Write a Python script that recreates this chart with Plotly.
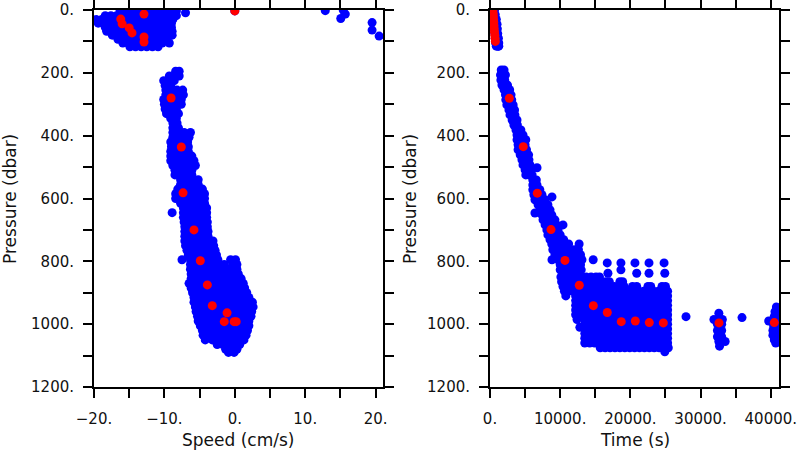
import plotly.graph_objects as go

# ---------------- data ----------------
# Left panel: rows of (pressure dbar, [speeds cm/s]) for the blue cloud
left_blue_rows = [
    (0, [15.4]), (2, [12.85]), (13, [15.7]), (27, [15.05]), (40, [19.5]), (64, [19.5]), (83, [20.5]),
    (3, [-16.3, -15.5, -14.7, -13.9, -13.1, -12.3, -11.5, -10.7, -9.9, -9.1, -8.3, 0.0]),
    (9, [-7.0]),
    (18, [-18.4, -17.6, -16.8, -16.0, -15.2, -14.4, -13.6, -12.8, -12.0, -11.2, -10.4, -9.6, -8.8, -8.3]),
    (30, [-19.7, -18.9, -18.1, -17.3, -16.5, -15.7, -14.9, -14.1, -13.3, -12.5, -11.7, -10.9, -10.1, -9.3, -8.8]),
    (42, [-19.4, -18.6, -17.8, -17.0, -16.2, -15.4, -14.6, -13.8, -13.0, -12.2, -11.4, -10.6, -9.8, -9.0]),
    (55, [-18.4, -17.6, -16.8, -16.0, -15.2, -14.4, -13.6, -12.8, -12.0, -11.2, -10.4, -9.6, -9.0]),
    (68, [-18.2, -17.4, -16.6, -15.8, -15.0, -14.2, -13.4, -12.6, -11.8, -11.0, -10.2, -9.4, -8.9]),
    (80, [-17.4, -16.6, -15.8, -15.0, -14.2, -13.4, -12.6, -11.8, -11.0, -10.2, -9.4, -8.9]),
    (93, [-16.6, -15.8, -15.0, -14.2, -13.4, -12.6, -11.8, -11.0, -10.2, -9.9]),
    (105, [-15.9, -15.1, -14.3, -13.5, -12.7, -11.9, -11.1, -10.3, -9.3]),
    (117, [-14.9, -14.1, -13.3, -12.5, -11.7, -10.9]),
    (195, [-8.4, -7.9]),
    (210, [-9.3, -8.6, -7.9]),
    (225, [-10.1, -9.4, -8.6]),
    (240, [-9.9, -9.1]),
    (255, [-9.8, -9.0, -8.2, -7.4]),
    (270, [-9.8, -9.0, -8.2, -7.3]),
    (285, [-10.1, -9.3, -8.5, -7.6]),
    (300, [-10.0, -9.2, -8.4, -7.6]),
    (315, [-9.9, -9.1, -8.3]),
    (330, [-9.7, -8.9, -8.0]),
    (345, [-9.1, -8.3]),
    (360, [-8.8, -8.2]),
    (375, [-8.8, -8.0]),
    (390, [-8.8, -8.0, -7.2, -6.3]),
    (405, [-8.8, -8.0, -7.2, -6.5]),
    (420, [-9.1, -8.3, -7.5, -6.7]),
    (435, [-9.0, -8.2, -7.4, -6.6]),
    (450, [-9.1, -8.3, -7.5, -6.6]),
    (465, [-9.1, -8.3, -7.5, -6.7, -6.1]),
    (480, [-9.1, -8.3, -7.5, -6.7, -5.8]),
    (495, [-8.8, -8.0, -7.2, -6.4, -5.6]),
    (510, [-8.5, -7.7, -6.9, -6.1]),
    (525, [-8.5, -7.7, -6.9, -6.1]),
    (540, [-7.7, -6.9, -6.1, -5.2]),
    (555, [-7.7, -6.9, -6.1, -5.2]),
    (570, [-8.1, -7.3, -6.5, -5.6, -4.6]),
    (585, [-8.4, -7.6, -6.8, -5.9, -5.0, -4.3]),
    (600, [-8.4, -7.6, -6.8, -5.9, -5.0, -4.3]),
    (615, [-7.7, -6.9, -6.0, -5.2, -4.3]),
    (630, [-7.3, -6.5, -5.6, -4.8, -4.0]),
    (645, [-8.9, -7.3, -6.5, -5.6, -4.8, -4.0]),
    (660, [-7.3, -6.5, -5.6, -4.8, -4.0]),
    (675, [-7.2, -6.4, -5.5, -4.7, -3.9]),
    (690, [-7.1, -6.3, -5.4, -4.6, -3.9]),
    (705, [-7.1, -6.3, -5.4, -4.6, -3.8]),
    (720, [-7.1, -6.2, -5.4, -4.6, -3.8]),
    (735, [-7.1, -6.2, -5.4, -4.5, -3.6, -3.1]),
    (750, [-7.0, -6.2, -5.3, -4.5, -3.6, -3.0]),
    (765, [-6.8, -6.0, -5.1, -4.3, -3.5, -2.8]),
    (780, [-6.6, -5.8, -5.0, -4.1, -3.3, -2.6]),
    (795, [-7.5, -6.3, -5.5, -4.7, -3.8, -3.0, -2.4, -0.6, 0.1]),
    (810, [-6.3, -5.5, -4.7, -3.9, -3.1, -2.3, -1.5, -0.3, 0.3]),
    (825, [-6.3, -5.5, -4.7, -3.9, -3.1, -2.3, -1.5, -0.7, 0.3]),
    (840, [-6.2, -5.4, -4.6, -3.8, -3.0, -2.2, -1.4, -0.6, 0.2, 0.5]),
    (855, [-6.2, -5.4, -4.6, -3.8, -3.0, -2.2, -1.4, -0.6, 0.2, 0.9]),
    (870, [-6.5, -5.6, -4.8, -4.0, -3.2, -2.4, -1.6, -0.8, 0.0, 0.8, 1.2]),
    (885, [-6.2, -5.4, -4.6, -3.8, -3.0, -2.2, -1.4, -0.6, 0.2, 1.0, 1.4]),
    (900, [-6.0, -5.2, -4.4, -3.6, -2.8, -2.0, -1.2, -0.4, 0.4, 1.2, 1.7]),
    (915, [-5.8, -5.0, -4.2, -3.4, -2.6, -1.8, -1.0, -0.2, 0.6, 1.4, 2.0]),
    (930, [-5.8, -5.0, -4.2, -3.4, -2.6, -1.8, -1.0, -0.2, 0.6, 1.4, 2.2, 2.5]),
    (945, [-5.6, -4.8, -4.0, -3.2, -2.4, -1.6, -0.8, 0.0, 0.8, 1.6, 2.4, 2.6]),
    (960, [-5.5, -4.7, -3.9, -3.1, -2.3, -1.5, -0.7, 0.1, 0.9, 1.7, 2.4]),
    (975, [-5.3, -4.5, -3.7, -2.9, -2.1, -1.3, -0.5, 0.3, 1.1, 1.9, 2.3]),
    (990, [-5.2, -4.4, -3.6, -2.8, -2.0, -1.2, -0.4, 0.4, 1.2, 2.0]),
    (1005, [-4.9, -4.1, -3.3, -2.5, -1.7, -0.9, -0.1, 0.7, 1.5, 2.0]),
    (1020, [-4.6, -3.8, -3.0, -2.2, -1.4, -0.6, 0.2, 1.0, 1.8]),
    (1035, [-4.5, -3.7, -2.9, -2.1, -1.3, -0.5, 0.3, 1.1, 1.6]),
    (1050, [-4.2, -3.2, -2.4, -1.6, -0.8, 0.0, 0.8, 1.3]),
    (1065, [-2.5, -1.7, -0.9, -0.1, 0.7]),
    (1080, [-1.3, -0.5, 0.3]),
    (1090, [-0.9, -0.1]),
]

# Left panel red (averaged) points
left_red_speed = [-12.9, -16.2, -16.0, -15.0, -14.6, -12.9, -12.9, 0.0, -9.05, -7.6, -7.35,
                  -5.8, -4.9, -3.9, -3.2, -1.1, -1.5, -0.1, 0.2]
left_red_pres = [13, 29, 44, 57, 73, 86, 102, 3, 280, 436, 582,
                 700, 798, 875, 941, 964, 992, 992, 992]

# Right panel: typed time list for the deep, densely sampled block
deep_times = [13500, 14200, 14900, 15600, 16300, 17000, 17700, 18400, 19100,
              19800, 20500, 21200, 21900, 22600, 23300, 24000, 24700, 25300]

right_blue_rows = [
    (0, [450, 650]), (15, [500, 750]), (30, [550, 800, 900]), (45, [600, 850, 1000]),
    (60, [650, 900, 1050]), (75, [700, 950, 1100]), (90, [750, 1000, 1200]),
    (105, [800, 1050, 1250]), (115, [900, 1150, 1250]),
    (191, [1600, 2000]), (207, [1500, 1950, 2200]), (223, [1550, 2100]),
    (239, [1700, 2200, 2500]), (254, [2000, 2500, 2800]), (270, [2200, 2700, 3000]),
    (286, [2250, 2700, 3100]), (302, [2400, 2900, 3300]), (318, [2700, 3150, 3500]),
    (334, [2850, 3300, 3550]), (350, [3150, 3550, 3850]), (366, [3400, 3900]),
    (382, [3700, 4100, 4400]), (398, [3850, 4300, 4700]), (413, [3850, 4300, 4800, 5100]),
    (429, [4000, 4500, 5000]), (445, [4000, 4600, 5200]), (461, [4300, 4900, 5500]),
    (477, [4550, 5100, 5550]), (493, [4700, 5250, 5700]), (502, [6700]),
    (509, [5000, 5400, 5850]), (525, [5100, 5550, 6000]), (541, [6100, 6600]),
    (557, [6100, 6700]), (572, [6100, 6550, 7100]), (588, [6250, 6850, 7400]),
    (595, [8830]), (604, [6400, 6950, 7550, 7850]), (620, [6850, 7400, 8000, 8250]),
    (636, [7100, 7700, 8250, 8550]), (646, [6400]), (652, [7400, 8000, 8550, 8800]),
    (668, [7550, 8100, 8700, 9250]), (684, [7850, 8400, 9000, 9500, 10400]),
    (700, [8100, 8700, 9300, 9700]), (716, [8250, 8850, 9450, 10000]),
    (731, [8550, 9100, 9700, 10300, 10500]),
    (745, [8800, 9400, 10000, 10600, 11200, 12700]),
    (763, [8950, 9550, 10200, 10800, 11400, 12000, 12600]),
    (779, [9250, 9850, 10450, 11050, 11650, 12250, 12900]),
    (795, [8830, 9700, 10300, 10900, 11500, 12100, 12700, 13100, 14700]),
    (805, [16700, 18650, 20650, 22650, 24800]),
    (811, [10000, 10600, 11200, 11800, 12400, 12900]),
    (827, [10000, 10600, 11200, 11800, 12400, 13000, 18650]),
    (838, [16800, 20900, 22650, 24900]),
    (850, [10100, 10700, 11300, 11900, 12500, 13100, 13700, 14400, 15100, 15600]),
    (865, [10200, 10800, 11400, 12000, 12600, 13200, 13800, 14500, 15200, 15800,
           16500, 17000, 18500, 18900]),
    (880, [10400, 11000, 11600, 12200, 12800, 13500, 14200, 14900, 15600, 16300,
           17000, 17700, 18400, 19100, 20300, 20900, 22500, 22900, 24500, 25000]),
    (895, [10600, 11200, 11800, 12400, 13000] + deep_times),
    (910, [10800, 12200, 12900] + deep_times),
    (925, [12200, 12900] + deep_times),
    (940, [12200, 12900] + deep_times),
    (955, [12200, 12900] + deep_times),
    (970, [12200, 12900] + deep_times),
    (985, [12400] + deep_times),
    (1000, deep_times),
    (1010, [12800]),
    (1015, deep_times),
    (1030, deep_times),
    (1045, deep_times),
    (1053, [13700]),
    (1060, deep_times),
    (1075, [15700, 16400, 17100, 17800, 18500, 19200, 19900, 20600, 21300, 22000,
            22700, 23400, 24100, 24800, 25400]),
    (1088, [24900]),
    (976, [27920]), (979, [35900]),
    (965, [32600]), (985, [31900, 32500, 33100]), (1000, [32400, 33000]),
    (1020, [32400, 33000]), (1040, [32400, 33000]), (1055, [32600, 33500]), (1070, [32700]),
    (945, [40800]), (960, [40600, 41000]), (975, [40500, 41000]),
    (990, [39700, 40500, 41000]), (1005, [40400, 40900]), (1020, [40300, 40900]),
    (1035, [40300, 40900]), (1050, [40500, 41000]), (1060, [40700]),
]

right_red_time = [420, 450, 480, 510, 540, 570, 600, 640, 680, 720, 760,
                  2750, 4740, 6740, 8690, 10680, 12720, 14720, 16710, 18700,
                  20700, 22690, 24690, 32620, 40500]
right_red_pres = [0, 10, 20, 30, 40, 50, 60, 70, 80, 90, 100,
                  281, 435, 583, 699, 797, 876, 941, 963, 992,
                  990, 995, 996, 996, 995]

pres_ticks = [0, 200, 400, 600, 800, 1000, 1200]
pres_ticktext = ["0.", "200.", "400.", "600.", "800.", "1000.", "1200."]
speed_ticks = [-20, -10, 0, 10, 20]
speed_ticktext = ["\u221220.", "\u221210.", "0.", "10.", "20."]
time_ticks = [0, 10000, 20000, 30000, 40000]
time_ticktext = ["0.", "10000.", "20000.", "30000.", "40000."]


def flatten(rows):
    xs, ys = [], []
    for p, vals in rows:
        for v in vals:
            xs.append(v)
            ys.append(p)
    return xs, ys


lbx, lby = flatten(left_blue_rows)
rbx, rby = flatten(right_blue_rows)

BLUE = "#0000FF"
RED = "#FF0000"
MS = 9

fig = go.Figure()
fig.add_trace(go.Scatter(x=lbx, y=lby, mode="markers", xaxis="x", yaxis="y",
                         marker=dict(color=BLUE, size=MS, line=dict(width=0)), showlegend=False))
fig.add_trace(go.Scatter(x=left_red_speed, y=left_red_pres, mode="markers", xaxis="x", yaxis="y",
                         marker=dict(color=RED, size=MS, line=dict(width=0)), showlegend=False))
fig.add_trace(go.Scatter(x=rbx, y=rby, mode="markers", xaxis="x2", yaxis="y2",
                         marker=dict(color=BLUE, size=MS, line=dict(width=0)), showlegend=False))
fig.add_trace(go.Scatter(x=right_red_time, y=right_red_pres, mode="markers", xaxis="x2", yaxis="y2",
                         marker=dict(color=RED, size=MS, line=dict(width=0)), showlegend=False))

FONT = "DejaVu Sans"
tickfont = dict(family=FONT, size=15, color="#111111")


def axis_common(minor_vals):
    return dict(showline=True, linewidth=2, linecolor="black", mirror="ticks",
                ticks="outside", ticklen=9, tickwidth=1.5, tickcolor="black",
                showgrid=False, zeroline=False, tickfont=tickfont, automargin=False,
                minor=dict(tickmode="array", tickvals=minor_vals, ticks="outside",
                           ticklen=9, tickwidth=1.5, tickcolor="black", showgrid=False))


W, H = 800, 450
ytop, ybot = 10, 387
ydom = [1 - ybot / H, 1 - ytop / H]

fig.update_layout(
    width=W, height=H, margin=dict(l=0, r=0, t=0, b=0, autoexpand=False),
    paper_bgcolor="white", plot_bgcolor="white", showlegend=False,
    xaxis=dict(domain=[94 / W, 383 / W], range=[-20, 21.05], tickmode="array",
               tickvals=speed_ticks, ticktext=speed_ticktext, anchor="y",
               ticklabelstandoff=8, **axis_common([-15, -5, 5, 15])),
    yaxis=dict(domain=ydom, range=[1200, 0], tickmode="array", tickvals=pres_ticks,
               ticktext=pres_ticktext, anchor="x", ticklabelstandoff=6,
               **axis_common([100, 300, 500, 700, 900, 1100])),
    xaxis2=dict(domain=[490 / W, 779 / W], range=[0, 41170], tickmode="array",
                tickvals=time_ticks, ticktext=time_ticktext, anchor="y2",
                ticklabelstandoff=8,
                **axis_common([5000, 15000, 25000, 35000])),
    yaxis2=dict(domain=ydom, range=[1200, 0], tickmode="array", tickvals=pres_ticks,
                ticktext=pres_ticktext, anchor="x2", ticklabelstandoff=6,
                **axis_common([100, 300, 500, 700, 900, 1100])),
)

titlefont = dict(family=FONT, size=17, color="#111111")
fig.add_annotation(text="Speed (cm/s)", x=238.5 / W, y=1 - 440 / H, xref="paper", yref="paper",
                   showarrow=False, font=titlefont, xanchor="center", yanchor="middle")
fig.add_annotation(text="Time (s)", x=634.5 / W, y=1 - 440 / H, xref="paper", yref="paper",
                   showarrow=False, font=titlefont, xanchor="center", yanchor="middle")
fig.add_annotation(text="Pressure (dbar)", x=10 / W, y=1 - 199 / H, xref="paper", yref="paper",
                   showarrow=False, font=titlefont, textangle=-90, xanchor="center", yanchor="middle")
fig.add_annotation(text="Pressure (dbar)", x=410 / W, y=1 - 199 / H, xref="paper", yref="paper",
                   showarrow=False, font=titlefont, textangle=-90, xanchor="center", yanchor="middle")

fig.write_html("out.html", config={"displayModeBar": False},
               post_script="document.body.style.margin='0';document.body.style.overflow='hidden';")
